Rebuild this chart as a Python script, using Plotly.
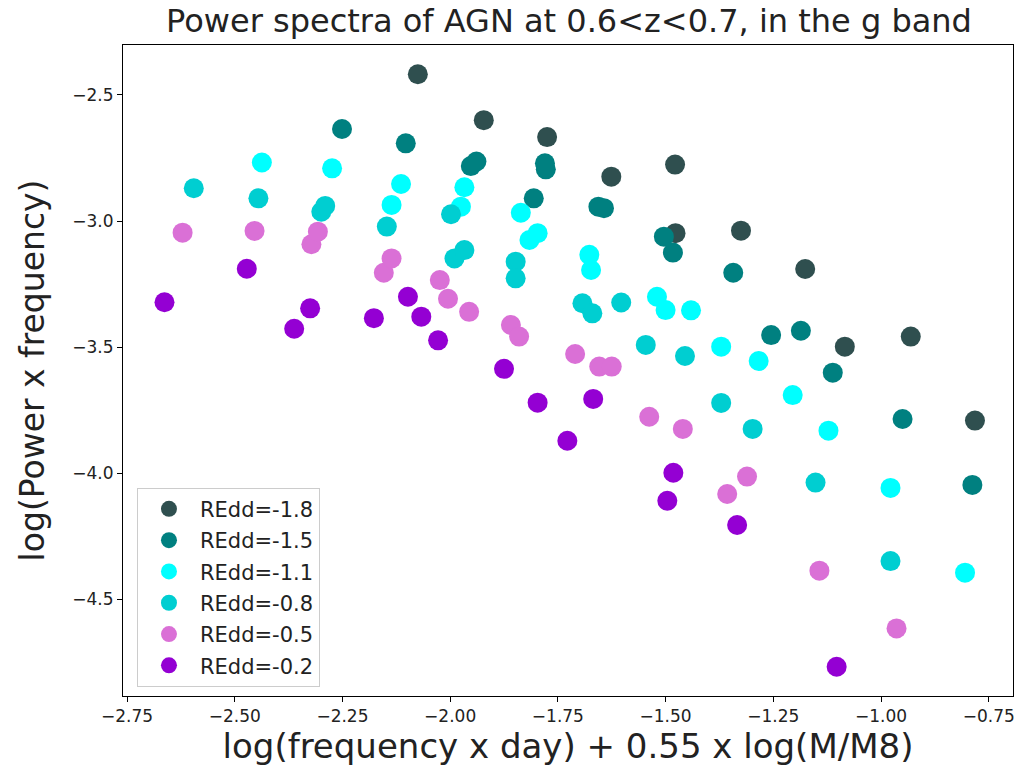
import plotly.graph_objects as go

labels = ["REdd=-1.8", "REdd=-1.5", "REdd=-1.1", "REdd=-0.8", "REdd=-0.5", "REdd=-0.2"]
colors = ["#2F4F4F", "#008080", "#00FFFF", "#00CED1", "#DA70D6", "#9400D3"]

x_m18 = [-2.075, -1.922, -1.775, -1.626, -1.478, -1.477, -1.325, -1.176, -1.084, -0.931, -0.782]
y_m18 = [-2.418, -2.600, -2.667, -2.824, -2.776, -3.048, -3.038, -3.190, -3.498, -3.458, -3.791]

x_m15 = [-2.251, -2.103, -1.952, -1.939, -1.780, -1.778, -1.806, -1.656, -1.643, -1.504, -1.483,
         -1.343, -1.255, -1.186, -1.112, -0.950, -0.788]
y_m15 = [-2.635, -2.692, -2.782, -2.764, -2.771, -2.795, -2.910, -2.943, -2.949, -3.062, -3.125,
         -3.205, -3.452, -3.435, -3.601, -3.785, -4.046]

x_m11 = [-2.437, -2.274, -2.114, -2.136, -1.967, -1.975, -1.836, -1.816, -1.797, -1.677, -1.673,
         -1.520, -1.500, -1.441, -1.371, -1.284, -1.205, -1.122, -0.978, -0.805]
y_m11 = [-2.768, -2.791, -2.853, -2.936, -2.866, -2.943, -2.967, -3.075, -3.048, -3.134, -3.194,
         -3.300, -3.353, -3.354, -3.498, -3.555, -3.690, -3.831, -4.058, -4.394]

x_m08 = [-2.595, -2.445, -2.299, -2.290, -2.147, -1.998, -1.990, -1.967, -1.848, -1.848, -1.693,
         -1.670, -1.603, -1.546, -1.455, -1.371, -1.298, -1.152, -0.978]
y_m08 = [-2.870, -2.910, -2.963, -2.940, -3.022, -2.973, -3.148, -3.115, -3.161, -3.227, -3.326,
         -3.366, -3.323, -3.491, -3.535, -3.721, -3.824, -4.037, -4.348]

x_m05 = [-2.621, -2.454, -2.322, -2.307, -2.154, -2.136, -2.024, -2.005, -1.956, -1.859, -1.840,
         -1.710, -1.654, -1.625, -1.538, -1.460, -1.357, -1.311, -1.143, -0.964]
y_m05 = [-3.046, -3.039, -3.092, -3.042, -3.205, -3.148, -3.234, -3.308, -3.360, -3.412, -3.458,
         -3.527, -3.577, -3.577, -3.776, -3.824, -4.082, -4.013, -4.386, -4.615]

x_m02 = [-2.663, -2.472, -2.362, -2.325, -2.177, -2.098, -2.067, -2.028, -1.875, -1.797, -1.728,
         -1.668, -1.482, -1.496, -1.334, -1.103]
y_m02 = [-3.322, -3.189, -3.427, -3.346, -3.385, -3.300, -3.379, -3.473, -3.586, -3.720, -3.871,
         -3.705, -3.998, -4.109, -4.205, -4.767]

xs = [x_m18, x_m15, x_m11, x_m08, x_m05, x_m02]
ys = [y_m18, y_m15, y_m11, y_m08, y_m05, y_m02]

x_ticks = [-2.75, -2.50, -2.25, -2.00, -1.75, -1.50, -1.25, -1.00, -0.75]
y_ticks = [-2.5, -3.0, -3.5, -4.0, -4.5]

FONT = "DejaVu Sans"
TXT = "#222222"

fig = go.Figure()
for i in range(len(labels)):
    fig.add_trace(go.Scatter(
        x=xs[i], y=ys[i], mode="markers", name=labels[i],
        legendgroup=labels[i],
        marker=dict(size=20, color=colors[i], line=dict(width=0)),
    ))

fig.update_layout(
    width=1019, height=777,
    margin=dict(l=123, r=4, t=45, b=81),
    paper_bgcolor="white", plot_bgcolor="white",
    font=dict(family=FONT, color=TXT),
    title=dict(text="Power spectra of AGN at 0.6<z<0.7, in the g band",
               x=(123 + 1015) / 2 / 1019, xanchor="center",
               y=1 - 21 / 777, yanchor="middle",
               font=dict(family=FONT, size=32, color=TXT)),
    showlegend=True,
    legend=dict(x=0.0157, y=0.0143, xanchor="left", yanchor="bottom",
                bgcolor="rgba(255,255,255,0.85)", bordercolor="#CCCCCC", borderwidth=1,
                font=dict(family=FONT, size=21, color=TXT),
                tracegroupgap=1, itemwidth=52),
)

fig.update_xaxes(
    range=[-2.7593, -0.6937], showgrid=False, zeroline=False,
    showline=True, linecolor="black", linewidth=1, mirror=True,
    ticks="outside", ticklen=5, tickcolor="black", ticklabeloverflow="allow",
    tickvals=x_ticks, ticktext=["\u2212%.2f" % abs(v) for v in x_ticks],
    tickfont=dict(family=FONT, size=17, color=TXT),
    title=dict(text="log(frequency x day) + 0.55 x log(M/M8)",
               font=dict(family=FONT, size=34, color=TXT), standoff=6),
)
fig.update_yaxes(
    range=[-4.883, -2.302], showgrid=False, zeroline=False,
    showline=True, linecolor="black", linewidth=1, mirror=True,
    ticks="outside", ticklen=5, tickcolor="black", ticklabeloverflow="allow",
    tickvals=y_ticks, ticktext=["\u2212%.1f" % abs(v) for v in y_ticks],
    tickfont=dict(family=FONT, size=17, color=TXT),
    title=dict(text="log(Power x frequency)",
               font=dict(family=FONT, size=33, color=TXT), standoff=17),
)

fig.write_html("out.html")
